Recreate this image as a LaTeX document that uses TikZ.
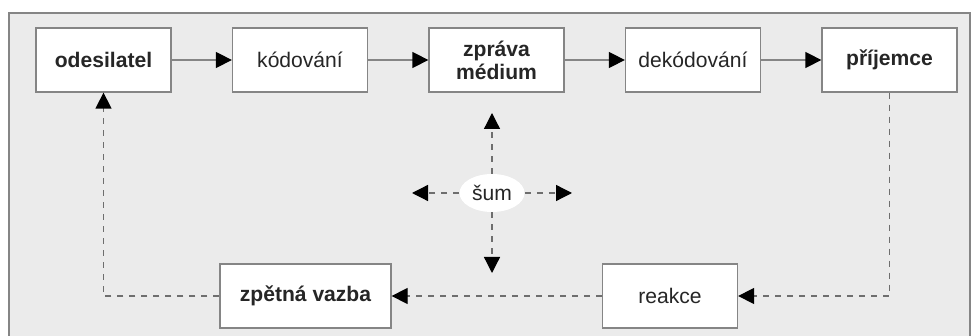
\documentclass[tikz,border=0pt]{standalone}
\usepackage{fontspec}
\setmainfont{Liberation Sans}
\usetikzlibrary{arrows.meta,shapes.geometric}
\definecolor{panel}{HTML}{EBEBEB}
\definecolor{rim}{HTML}{858585}
\definecolor{dash}{HTML}{6E6E6E}
\def\dx{4.9125cm}
\def\bw{3.375cm}
\tikzset{every node/.style={font=\fontsize{15}{16.5}\selectfont,text=black!85},
    box/.style={draw=rim,fill=white,line width=.9pt,minimum width=\bw,minimum height=1.6cm,align=center,name=#1},
    bbox/.style={box=#1,font=\fontsize{15}{16.5}\selectfont\bfseries},
    flow/.style={draw=rim,line width=.9pt,-{Triangle[color=black,length=.4cm,width=.4cm]}},
    fb/.style={flow,draw=dash,dash pattern=on .15cm off .15cm}}

\begin{document}
\begin{tikzpicture}
    \useasboundingbox (0,0) rectangle (24.325,8.4);
    \path[draw=rim,fill=panel,line width=.9pt] (.225,-.5) rectangle (24.25,8.075);
    % top row
    \path (2.5875,6.9) node[bbox=snd] {odesilatel}
      ++(\dx,0) node[box=enc] {kódování}
      ++(\dx,0) node[bbox=msg] {zpráva\\médium}
      ++(\dx,0) node[box=dec] {dekódování}
      ++(\dx,0) node[bbox=rcv] {příjemce};
    \foreach \a/\b in {snd/enc,enc/msg,msg/dec,dec/rcv}
      \path[flow] (\a) -- (\b);
    % feedback loop
    \node[box=react] at (16.75,1) {reakce};
    \node[bbox=fdb,minimum width=4.275cm] at (7.6375,1) {zpětná vazba};
    \path[fb] (rcv.south) |- (react);
    \path[fb] (react) -- (fdb);
    \path[fb] (fdb) -| (snd.south);
    % noise
    \node[ellipse,fill=white,inner sep=0pt,minimum width=1.625cm,minimum height=.95cm,name=noise]
      at (12.3,3.575) {šum};
    \foreach \a in {90,-90,180,0} {
      \path (noise.center) ++(\a:2) coordinate (n\a);
      \path[fb] (noise) -- (n\a);
    }
\end{tikzpicture}
\end{document}
